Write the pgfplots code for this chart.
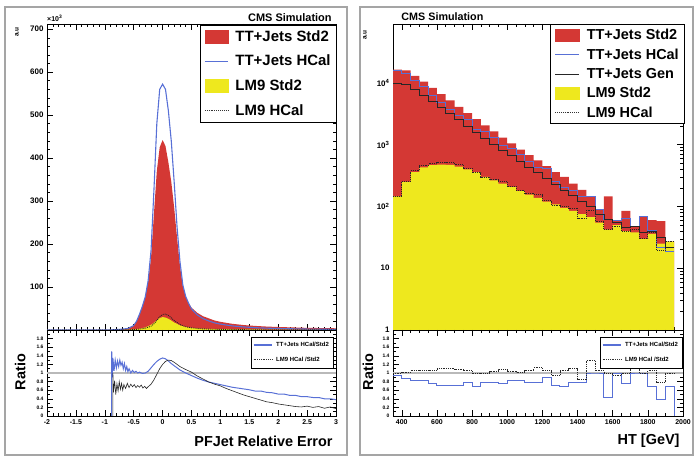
\documentclass[border=0pt]{standalone}
\usepackage{pgfplots}
\pgfplotsset{compat=1.18}
\usepackage{fontspec}
\setmainfont{Liberation Sans}
\definecolor{cmsred}{RGB}{212,56,52}
\definecolor{cmsyel}{RGB}{238,232,30}
\definecolor{cmsblue}{RGB}{88,112,214}
\definecolor{framegray}{RGB}{165,165,165}
\pgfplotsset{
  rootstyle/.style={
    scale only axis, anchor=south west,
    tick align=inside, major tick length=6bp, minor tick length=3bp,
    axis line style={line width=0.6pt},
    every tick/.style={black, line width=0.5pt},
    /pgf/number format/assume math mode=true,
    /pgf/number format/1000 sep={},
    legend cell align=left,
  },
  bigleg/.style={legend style={draw=black, line width=0.6pt, fill=white, anchor=north east,
    font=\bfseries\fontsize{#1}{#1}\selectfont, inner xsep=4bp, inner ysep=3bp, column sep=5bp}},
  smallleg/.style={legend style={draw=black, line width=0.5pt, fill=white, anchor=north east,
    font=\bfseries\fontsize{6}{6}\selectfont, row sep=5bp, inner xsep=2bp, inner ysep=3bp, column sep=2bp}},
}
\begin{document}
\begin{tikzpicture}
\useasboundingbox (0bp,0bp) rectangle (697bp,457bp);
\draw[framegray, line width=1.5bp] (5bp,2bp) rectangle (347bp,450bp);
\draw[framegray, line width=1.5bp] (360bp,2bp) rectangle (693bp,450bp);

% ---------------- left main ----------------
\begin{axis}[rootstyle, at={(47bp,127bp)}, width=289bp, height=306bp,
  xmin=-2, xmax=3, ymin=0, ymax=712,
  xtick={-2,-1.5,-1,-0.5,0,0.5,1,1.5,2,2.5,3}, xticklabels={}, minor x tick num=4,
  ytick={0,100,200,300,400,500,600,700}, yticklabels={,100,200,300,400,500,600,700},
  minor y tick num=4,
  yticklabel style={font=\bfseries\fontsize{8}{8}\selectfont},
  ylabel={a.u}, ylabel style={at={(axis description cs:-0.104,0.974)}, anchor=center, font=\bfseries\fontsize{6.5}{6.5}\selectfont},
  bigleg=15, legend style={at={(axis description cs:1.003,0.997)}, row sep=8.5bp},
  clip=false]
\addplot[fill=cmsred, draw=none, forget plot] coordinates {
(-2,0)(-0.9,0)(-0.88,0.3)(-0.8,0.8)(-0.7,1.5)(-0.6,3)(-0.5,10)(-0.45,20)(-0.4,36)(-0.35,55)(-0.3,78)(-0.25,112)(-0.2,168)(-0.15,270)(-0.1,370)(-0.05,425)(0,442)(0.05,428)(0.1,390)(0.15,345)(0.2,285)(0.25,215)(0.3,150)(0.35,102)(0.4,78)(0.45,63)(0.5,52)(0.6,40)(0.7,32)(0.8,27)(0.9,22)(1.0,19)(1.2,14.5)(1.4,11.5)(1.6,9.5)(1.8,8)(2.0,7)(2.25,6)(2.5,5)(2.75,4.5)(3.0,4)} \closedcycle;
\addplot[fill=cmsyel, draw=none, forget plot] coordinates {
(-2,0)(-0.9,0)(-0.85,0.2)(-0.7,0.5)(-0.6,0.8)(-0.5,1.5)(-0.4,3)(-0.3,6)(-0.2,12)(-0.15,17)(-0.1,23)(-0.05,28)(0,30)(0.05,29)(0.1,26)(0.15,22)(0.2,17.5)(0.3,11)(0.4,7)(0.5,5)(0.6,3.8)(0.7,3)(0.85,2.4)(1.0,2)(1.5,1.3)(2.0,1)(2.5,0.8)(3,0.7)} \closedcycle;
\addplot[cmsblue, line width=1.1pt, forget plot] coordinates {
(-2,0)(-0.9,0)(-0.88,0.4)(-0.8,1.0)(-0.7,1.9)(-0.6,3.6)(-0.5,10.3)(-0.45,20.6)(-0.4,36.5)(-0.35,55)(-0.3,77)(-0.25,115)(-0.2,185)(-0.15,325)(-0.1,480)(-0.05,560)(0,572)(0.05,560)(0.1,510)(0.15,440)(0.2,345)(0.25,240)(0.3,160)(0.35,105)(0.4,78)(0.45,62)(0.5,49)(0.6,35)(0.7,26.5)(0.8,21)(0.9,16.5)(1.0,13.7)(1.2,9.6)(1.4,7.1)(1.6,5.4)(1.8,4.3)(2.0,3.5)(2.25,2.8)(2.5,2.2)(2.75,1.8)(3.0,1.5)};
\addplot[black!85, densely dotted, line width=0.9pt, forget plot] coordinates {
(-2,0)(-0.9,0)(-0.86,0.15)(-0.7,0.38)(-0.6,0.55)(-0.5,1.05)(-0.4,2.1)(-0.3,4.0)(-0.2,9)(-0.15,14.5)(-0.1,22.5)(-0.05,30.8)(0,36)(0.05,37)(0.1,34)(0.15,28.4)(0.2,22)(0.3,12.7)(0.4,7.6)(0.5,5.1)(0.6,3.55)(0.7,2.6)(0.85,1.85)(1.0,1.4)(1.5,0.59)(2.0,0.28)(2.5,0.18)(3,0.12)};
\addlegendimage{legend image code/.code={\fill[cmsred] (0bp,-6.5bp) rectangle (23bp,6.5bp);}}
\addlegendentry{TT+Jets Std2}
\addlegendimage{legend image code/.code={\draw[cmsblue, line width=1.2pt] (0bp,0bp) -- (23bp,0bp);}}
\addlegendentry{TT+Jets HCal}
\addlegendimage{legend image code/.code={\fill[cmsyel] (0bp,-6.5bp) rectangle (23bp,6.5bp);}}
\addlegendentry{LM9 Std2}
\addlegendimage{legend image code/.code={\draw[black!80, densely dotted, line width=0.9pt] (0bp,0bp) -- (23bp,0bp);}}
\addlegendentry{LM9 HCal}
\node[anchor=base east, font=\bfseries\fontsize{11}{11}\selectfont] at (rel axis cs:0.997,1) [yshift=2.5bp] {CMS Simulation};
\node[anchor=base west, font=\bfseries\fontsize{7}{7}\selectfont, inner sep=0pt] at (rel axis cs:0,1) [yshift=2.5bp] {×10\textsuperscript{3}};
\end{axis}

% ---------------- left ratio ----------------
\begin{axis}[rootstyle, at={(47bp,41bp)}, width=289bp, height=86bp,
  xmin=-2, xmax=3, ymin=0, ymax=2,
  xtick={-2,-1.5,-1,-0.5,0,0.5,1,1.5,2,2.5,3}, minor x tick num=4,
  ytick={0,0.2,0.4,0.6,0.8,1,1.2,1.4,1.6,1.8,2}, yticklabels={0,0.2,0.4,0.6,0.8,1,1.2,1.4,1.6,1.8,},
  minor y tick num=1,
  xticklabel style={font=\bfseries\fontsize{7}{7}\selectfont},
  yticklabel style={font=\bfseries\fontsize{5}{5}\selectfont},
  xlabel={PFJet Relative Error}, xlabel style={at={(axis description cs:1,-0.29)}, anchor=east, font=\bfseries\fontsize{14.5}{14.5}\selectfont},
  ylabel={Ratio}, ylabel style={at={(axis description cs:-0.093,0.51)}, anchor=center, font=\bfseries\fontsize{14.5}{14.5}\selectfont},
  smallleg, legend style={at={(axis description cs:0.99,0.92)}}]
\addplot[gray!55, line width=1.3pt, forget plot] coordinates {(-2,1)(3,1)};
\addplot[cmsblue, line width=1.0pt, forget plot] coordinates {
(-0.88,0)(-0.88,1.5)(-0.87,0.9)(-0.86,1.35)(-0.84,1.05)(-0.82,1.3)(-0.80,1.12)(-0.78,1.28)(-0.76,1.15)(-0.74,1.3)(-0.72,1.18)(-0.70,1.25)(-0.68,1.1)(-0.66,1.22)(-0.64,1.06)(-0.62,1.15)(-0.60,1.03)(-0.58,1.1)(-0.55,1.0)(-0.52,1.06)(-0.49,1.01)(-0.46,1.04)(-0.43,1.0)(-0.40,1.02)(-0.35,0.99)(-0.30,1.0)(-0.25,1.04)(-0.20,1.12)(-0.15,1.2)(-0.10,1.27)(-0.05,1.32)(0.00,1.35)(0.05,1.33)(0.10,1.28)(0.15,1.22)(0.20,1.17)(0.30,1.07)(0.40,1.0)(0.50,0.94)(0.60,0.88)(0.70,0.83)(0.80,0.79)(0.90,0.76)(1.00,0.73)(1.10,0.7)(1.20,0.67)(1.30,0.65)(1.40,0.63)(1.50,0.61)(1.60,0.58)(1.70,0.58)(1.80,0.55)(1.90,0.54)(2.00,0.51)(2.10,0.51)(2.20,0.48)(2.30,0.48)(2.40,0.45)(2.50,0.45)(2.60,0.43)(2.70,0.43)(2.80,0.4)(2.90,0.4)(3.00,0.38)};
\addplot[black!85, line width=0.6pt, forget plot] coordinates {
(-0.86,0)(-0.86,1.0)(-0.85,0.55)(-0.83,0.82)(-0.81,0.5)(-0.79,0.75)(-0.77,0.58)(-0.75,0.8)(-0.73,0.62)(-0.71,0.76)(-0.69,0.6)(-0.67,0.73)(-0.64,0.64)(-0.61,0.76)(-0.58,0.66)(-0.55,0.74)(-0.52,0.68)(-0.49,0.73)(-0.46,0.66)(-0.43,0.71)(-0.40,0.67)(-0.37,0.72)(-0.34,0.65)(-0.31,0.69)(-0.28,0.64)(-0.25,0.68)(-0.20,0.74)(-0.15,0.84)(-0.10,0.97)(-0.05,1.1)(0,1.2)(0.05,1.27)(0.10,1.3)(0.15,1.29)(0.20,1.25)(0.25,1.2)(0.30,1.15)(0.40,1.08)(0.50,1.02)(0.60,0.93)(0.70,0.86)(0.80,0.79)(0.90,0.74)(1.00,0.7)(1.10,0.64)(1.20,0.59)(1.30,0.54)(1.40,0.49)(1.50,0.45)(1.60,0.41)(1.70,0.37)(1.80,0.33)(1.90,0.31)(2.00,0.28)(2.10,0.26)(2.20,0.24)(2.30,0.22)(2.40,0.21)(2.50,0.23)(2.60,0.2)(2.70,0.22)(2.80,0.18)(2.90,0.21)(3.00,0.17)};
\addlegendimage{legend image code/.code={\draw[cmsblue, line width=1.2pt] (0bp,0bp) -- (18bp,0bp);}}
\addlegendentry{TT+Jets HCal/Std2}
\addlegendimage{legend image code/.code={\draw[black!80, densely dotted, line width=0.8pt] (0bp,0bp) -- (18bp,0bp);}}
\addlegendentry{LM9 HCal /Std2}
\end{axis}

% ---------------- right main ----------------
\begin{axis}[rootstyle, at={(393bp,127bp)}, width=290bp, height=306bp,
  xmin=350, xmax=2000, ymode=log, ymin=1, ymax=9e4,
  xtick={400,600,800,1000,1200,1400,1600,1800,2000}, xticklabels={}, minor x tick num=3,
  ytick={1,10,100,1000,10000}, yticklabels={1,10,10\textsuperscript{2},10\textsuperscript{3},10\textsuperscript{4}},
  yticklabel style={font=\bfseries\fontsize{8}{8}\selectfont},
  ylabel={a.u}, ylabel style={at={(axis description cs:-0.097,0.964)}, anchor=center, font=\bfseries\fontsize{6.5}{6.5}\selectfont},
  bigleg=14.5, legend style={at={(axis description cs:1.007,1.0)}, row sep=3.5bp},
  clip=false]
\addplot[fill=cmsred, draw=none, const plot mark left, forget plot] coordinates {
(350,16500)(400,16000)(450,13000)(500,10500)(550,8300)(600,6600)(650,5200)(700,4100)(750,3250)(800,2600)(850,2050)(900,1650)(950,1300)(1000,1050)(1050,830)(1100,680)(1150,560)(1200,450)(1250,360)(1300,300)(1350,235)(1400,185)(1450,145)(1500,90)(1550,145)(1600,60)(1650,85)(1700,48)(1750,70)(1800,60)(1850,58)(1900,27)(1950,27)} \closedcycle;
\addplot[fill=cmsyel, draw=none, const plot mark left, forget plot] coordinates {
(350,145)(400,250)(450,360)(500,430)(550,465)(600,475)(650,470)(700,440)(750,400)(800,360)(850,300)(900,265)(950,235)(1000,205)(1050,178)(1100,155)(1150,138)(1200,120)(1250,108)(1300,95)(1350,85)(1400,75)(1450,67)(1500,55)(1550,42)(1600,50)(1650,40)(1700,38)(1750,30)(1800,36)(1850,25)(1900,27)(1950,27)} \closedcycle;
\addplot[cmsblue, line width=1.0pt, const plot mark left, forget plot] coordinates {
(350,15700)(400,14080)(450,10790)(500,8715)(550,6308)(600,4752)(650,3692)(700,2952)(750,2568)(800,1794)(850,1620)(900,1304)(950,988)(1000,872)(1050,689)(1100,537)(1150,431)(1200,405)(1250,256)(1300,204)(1350,181)(1400,144)(1450,145)(1500,90)(1550,61)(1600,60)(1650,65)(1700,48)(1750,70)(1800,41)(1850,22)(1900,18.4)(1950,18.4)};
\addplot[black!85, line width=0.8pt, const plot mark left, forget plot] coordinates {
(350,10000)(400,9500)(450,7800)(500,6300)(550,5000)(600,4000)(650,3200)(700,2550)(750,2000)(800,1600)(850,1280)(900,1020)(950,820)(1000,660)(1050,530)(1100,430)(1150,350)(1200,280)(1250,225)(1300,185)(1350,150)(1400,120)(1450,100)(1500,75)(1550,62)(1600,55)(1650,45)(1700,48)(1750,38)(1800,40)(1850,32)(1900,22)(1950,22)};
\addplot[black!85, densely dotted, line width=0.9pt, const plot mark left, forget plot] coordinates {
(350,145)(400,255)(450,378)(500,460)(550,488)(600,522)(650,517)(700,475)(750,420)(800,353)(850,300)(900,273)(950,254)(1000,211)(1050,182)(1100,163)(1150,155)(1200,126)(1250,103)(1300,100)(1350,94)(1400,64)(1450,87)(1500,58)(1550,42)(1600,48)(1650,40)(1700,42)(1750,30)(1800,38)(1850,19.5)(1900,27)(1950,27)};
\addlegendimage{legend image code/.code={\fill[cmsred] (0bp,-6bp) rectangle (24bp,6bp);}}
\addlegendentry{TT+Jets Std2}
\addlegendimage{legend image code/.code={\draw[cmsblue, line width=1.2pt] (0bp,0bp) -- (24bp,0bp);}}
\addlegendentry{TT+Jets HCal}
\addlegendimage{legend image code/.code={\draw[black!85, line width=0.8pt] (0bp,0bp) -- (24bp,0bp);}}
\addlegendentry{TT+Jets Gen}
\addlegendimage{legend image code/.code={\fill[cmsyel] (0bp,-6bp) rectangle (24bp,6bp);}}
\addlegendentry{LM9 Std2}
\addlegendimage{legend image code/.code={\draw[black!80, densely dotted, line width=0.9pt] (0bp,0bp) -- (24bp,0bp);}}
\addlegendentry{LM9 HCal}
\node[anchor=base west, font=\bfseries\fontsize{10.8}{10.8}\selectfont] at (rel axis cs:0.017,1) [yshift=3bp] {CMS Simulation};
\end{axis}

% ---------------- right ratio ----------------
\begin{axis}[rootstyle, at={(393bp,41bp)}, width=290bp, height=86bp,
  xmin=350, xmax=2000, ymin=0, ymax=2,
  xtick={400,600,800,1000,1200,1400,1600,1800,2000}, minor x tick num=3,
  ytick={0,0.2,0.4,0.6,0.8,1,1.2,1.4,1.6,1.8,2}, yticklabels={0,0.2,0.4,0.6,0.8,1,1.2,1.4,1.6,1.8,},
  minor y tick num=1,
  xticklabel style={font=\bfseries\fontsize{7}{7}\selectfont},
  yticklabel style={font=\bfseries\fontsize{5}{5}\selectfont},
  xlabel={HT [GeV]}, xlabel style={at={(axis description cs:1,-0.29)}, anchor=east, font=\bfseries\fontsize{14.5}{14.5}\selectfont},
  ylabel={Ratio}, ylabel style={at={(axis description cs:-0.086,0.51)}, anchor=center, font=\bfseries\fontsize{14.5}{14.5}\selectfont},
  smallleg, legend style={at={(axis description cs:0.997,0.92)}}]
\addplot[gray!55, line width=1.3pt, forget plot] coordinates {(350,1)(2000,1)};
\addplot[cmsblue, line width=1.0pt, const plot mark left, forget plot] coordinates {
(350,0.95)(400,0.88)(450,0.83)(500,0.83)(550,0.76)(600,0.72)(650,0.71)(700,0.72)(750,0.79)(800,0.69)(850,0.79)(900,0.79)(950,0.76)(1000,0.83)(1050,0.83)(1100,0.79)(1150,0.77)(1200,0.9)(1250,0.71)(1300,0.68)(1350,0.77)(1400,0.78)(1450,1.0)(1500,1.0)(1550,0.42)(1600,1.0)(1650,0.76)(1700,1.0)(1750,1.0)(1800,0.68)(1850,0.38)(1900,0.68)(1950,0.68)(1950,0)(2000,0)};
\addplot[black!85, densely dotted, line width=0.8pt, const plot mark left, forget plot] coordinates {
(350,1.0)(400,1.02)(450,1.05)(500,1.07)(550,1.05)(600,1.1)(650,1.1)(700,1.08)(750,1.05)(800,0.98)(850,1.0)(900,1.03)(950,1.08)(1000,1.03)(1050,1.02)(1100,1.05)(1150,1.12)(1200,1.05)(1250,0.95)(1300,1.05)(1350,1.1)(1400,0.85)(1450,1.3)(1500,1.05)(1550,1.0)(1600,0.95)(1650,1.0)(1700,1.1)(1750,1.0)(1800,1.05)(1850,0.78)(1900,1.0)(1950,1.0)};
\addlegendimage{legend image code/.code={\draw[cmsblue, line width=1.2pt] (0bp,0bp) -- (18bp,0bp);}}
\addlegendentry{TT+Jets HCal/Std2}
\addlegendimage{legend image code/.code={\draw[black!80, densely dotted, line width=0.8pt] (0bp,0bp) -- (18bp,0bp);}}
\addlegendentry{LM9 HCal /Std2}
\end{axis}
\end{tikzpicture}
\end{document}
